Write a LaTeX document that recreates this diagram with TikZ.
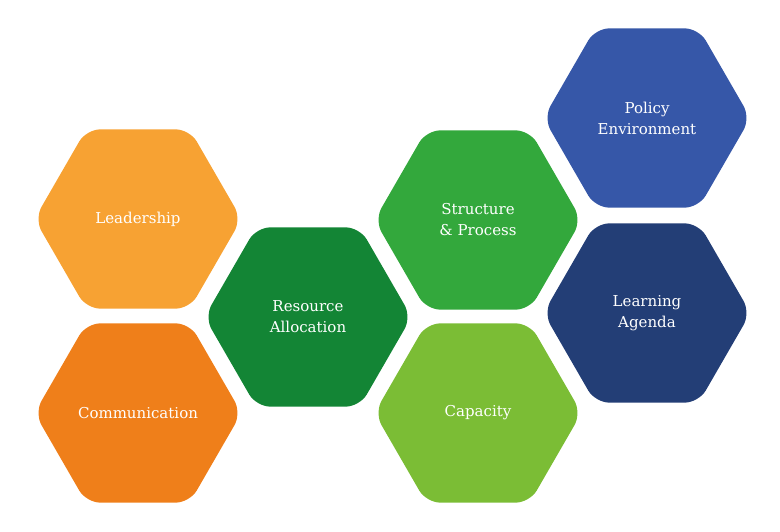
\documentclass[tikz,border=0pt]{standalone}
\usepackage{fontspec}
\setmainfont{DejaVu Serif}
\usetikzlibrary{shapes.geometric}
\definecolor{cLead}{HTML}{F7A233}
\definecolor{cComm}{HTML}{EF7F1A}
\definecolor{cRes}{HTML}{138535}
\definecolor{cStr}{HTML}{33A83C}
\definecolor{cCap}{HTML}{7BBD35}
\definecolor{cPol}{HTML}{3657A8}
\definecolor{cLea}{HTML}{233E76}
\tikzset{hexa/.style={regular polygon, regular polygon sides=6, minimum size=207pt, inner sep=0pt, rounded corners=14pt, fill=#1, text=white, align=center, font=\fontsize{15}{21}\selectfont}}
\begin{document}
\begin{tikzpicture}[x=1pt,y=-1pt]
\useasboundingbox (0,0) rectangle (780,532);
\node[hexa=cLead] (lead) at (138,219) {Leadership};
\node[hexa=cComm] (comm) at (138,413) {Communication};
\node[hexa=cRes] (res) at (308,317) {Resource\\Allocation};
\node[hexa=cStr] (str) at (478,220) {Structure\\\& Process};
\node[hexa=cCap] (cap) at (478,413) {Capacity};
\node[hexa=cPol] (pol) at (647,118) {Policy\\Environment};
\node[hexa=cLea] (lea) at (647,313) {Learning\\Agenda};
\end{tikzpicture}
\end{document}
